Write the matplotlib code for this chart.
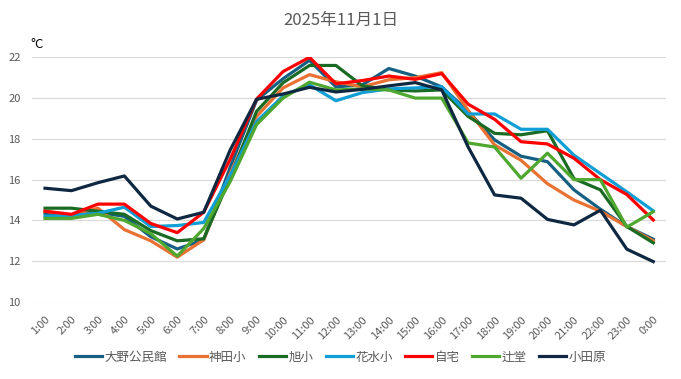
import matplotlib
matplotlib.use("Agg")
import matplotlib.pyplot as plt

plt.rcParams['font.family'] = ['Noto Sans CJK JP', 'DejaVu Sans']

HOURS = [f"{h}:00" for h in range(1, 24)] + ["0:00"]

oono = [14.35, 14.25, 14.4, 14.2, 13.2, 12.6, 13.05, 16.6, 19.9, 20.95, 21.85, 20.55,
        20.65, 21.45, 21.08, 20.55, 19.35, 17.95, 17.15, 16.88, 15.5, 14.55, 13.7, 13.08]
kanda = [14.45, 14.25, 14.6, 13.55, 13.0, 12.2, 13.05, 16.3, 19.1, 20.5, 21.15, 20.8,
         20.55, 20.9, 21.0, 21.25, 19.4, 17.7, 16.95, 15.8, 15.0, 14.45, 13.7, 13.0]
asahi = [14.6, 14.6, 14.45, 14.3, 13.5, 13.0, 13.1, 16.1, 19.35, 20.75, 21.6, 21.6,
         20.6, 20.4, 20.35, 20.4, 19.1, 18.27, 18.2, 18.4, 16.05, 15.5, 13.7, 12.9]
hanamizu = [14.2, 14.25, 14.35, 14.65, 13.7, 13.75, 13.9, 16.2, 18.85, 20.1, 20.65, 19.87,
            20.27, 20.45, 20.5, 20.56, 19.22, 19.22, 18.47, 18.47, 17.2, 16.3, 15.4, 14.47]
jitaku = [14.45, 14.3, 14.8, 14.8, 13.85, 13.4, 14.4, 17.0, 19.95, 21.3, 22.0, 20.7,
          20.86, 21.08, 20.92, 21.2, 19.7, 18.96, 17.86, 17.75, 17.05, 16.0, 15.27, 14.02]
tsujido = [14.1, 14.1, 14.3, 14.0, 13.35, 12.25, 13.6, 15.9, 18.7, 20.0, 20.78, 20.4,
           20.45, 20.4, 20.0, 20.0, 17.8, 17.6, 16.07, 17.3, 16.0, 16.0, 13.67, 14.43]
odawara = [15.58, 15.46, 15.85, 16.18, 14.7, 14.07, 14.4, 17.45, 19.94, 20.2, 20.53, 20.3,
           20.43, 20.6, 20.76, 20.4, 17.6, 15.25, 15.09, 14.05, 13.78, 14.5, 12.59, 11.98]

series = [
    ("大野公民館", oono, "#156082"),
    ("神田小", kanda, "#E97132"),
    ("旭小", asahi, "#196B24"),
    ("花水小", hanamizu, "#0F9ED5"),
    ("自宅", jitaku, "#FF0000"),
    ("辻堂", tsujido, "#4EA72E"),
    ("小田原", odawara, "#0E2841"),
]

fig = plt.figure(figsize=(6.81, 3.79), dpi=100)
ax = fig.add_axes([0.0467, 0.2032, 0.932, 0.6456])

x = list(range(len(HOURS)))
for name, vals, col in series:
    ax.plot(x, vals, color=col, lw=2.3, label=name, solid_joinstyle="round")

ax.set_xlim(-0.5, len(HOURS) - 0.5)
ax.set_ylim(10, 22)
ax.set_yticks(range(10, 23, 2))
ax.set_xticks(x)
ax.set_xticklabels(HOURS, rotation=45, ha="right", rotation_mode="anchor",
                   fontsize=8, color="#595959")
ax.tick_params(axis="y", labelsize=8, labelcolor="#595959", length=0, pad=8)
ax.tick_params(axis="x", length=0, pad=9)
ax.grid(axis="y", color="#D9D9D9", lw=0.8)
ax.set_axisbelow(True)
for s in ax.spines.values():
    s.set_visible(False)

fig.text(0.5, 1 - 20 / 379, "2025年11月1日", ha="center", va="center",
         fontsize=12, color="#595959")
fig.text(30 / 681, 1 - 45 / 379, "°C", ha="left", va="center", fontsize=9.5, color="black")

fig.legend(loc="center", bbox_to_anchor=(0.5, 1 - 357 / 379), ncol=7, frameon=False,
           fontsize=9, handlelength=2.2, handletextpad=0.2, columnspacing=0.95,
           labelcolor="#595959")

fig.savefig("out.png", dpi=100)
